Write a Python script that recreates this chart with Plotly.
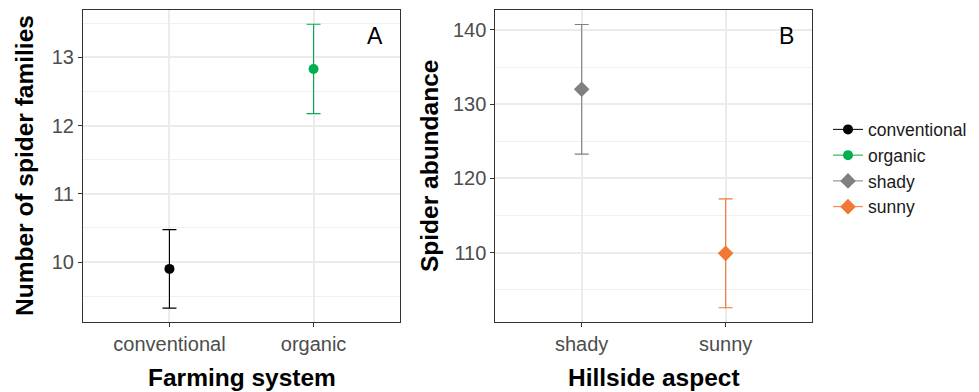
import plotly.graph_objects as go

# ---- data ----
farming = ["conventional", "organic"]
families_mean = [9.90, 12.83]
families_err = [0.575, 0.655]
farming_colors = ["#000000", "#00B050"]

aspect = ["shady", "sunny"]
abundance_mean = [132.0, 109.9]
abundance_err = [8.73, 7.34]
aspect_colors = ["#808080", "#F37735"]

yticks_a = [10, 11, 12, 13]
yminor_a = [9.5, 10.5, 11.5, 12.5, 13.5]
yticks_b = [110, 120, 130, 140]
yminor_b = [105, 115, 125, 135]

FONT = "Liberation Sans, Arial, sans-serif"
W, H = 979, 392

fig = go.Figure()

for name, m, e, c in zip(farming, families_mean, families_err, farming_colors):
    fig.add_trace(go.Scatter(
        x=[name], y=[m], name=name, mode="lines+markers",
        marker=dict(color=c, size=10, symbol="circle"),
        line=dict(color=c, width=1),
        error_y=dict(type="data", array=[e], color=c, thickness=1.1, width=7),
        xaxis="x", yaxis="y"))

for name, m, e, c in zip(aspect, abundance_mean, abundance_err, aspect_colors):
    fig.add_trace(go.Scatter(
        x=[name], y=[m], name=name, mode="lines+markers",
        marker=dict(color=c, size=12, symbol="diamond"),
        line=dict(color=c, width=1),
        error_y=dict(type="data", array=[e], color=c, thickness=1.1, width=7),
        xaxis="x2", yaxis="y2"))

def px_x(a, b):
    return [a / W, b / W]

def px_y(top, bottom):
    return [(H - bottom) / H, (H - top) / H]

common_axis = dict(
    showline=True, mirror=True, linecolor="#333333", linewidth=1,
    ticks="outside", ticklen=4, tickcolor="#333333", tickwidth=1,
    tickfont=dict(family=FONT, size=20, color="#4D4D4D"),
    showgrid=True, gridcolor="#EBEBEB", gridwidth=1.6, zeroline=False,
)

minor_grid = dict(showgrid=True, gridcolor="#F0F0F0", gridwidth=1, ticks="")

fig.update_layout(
    width=W, height=H,
    margin=dict(l=0, r=0, t=0, b=0),
    paper_bgcolor="white", plot_bgcolor="white",
    font=dict(family=FONT),
    xaxis=dict(common_axis, domain=px_x(83, 400), type="category",
               categoryorder="array", categoryarray=farming,
               range=[-0.6, 1.6], anchor="y"),
    yaxis=dict(common_axis, domain=px_y(10, 322), range=[9.122, 13.694],
               tickvals=yticks_a, anchor="x",
               minor=dict(minor_grid, tickvals=yminor_a)),
    xaxis2=dict(common_axis, domain=px_x(495.3, 812), type="category",
                categoryorder="array", categoryarray=aspect,
                range=[-0.6, 1.6], anchor="y2"),
    yaxis2=dict(common_axis, domain=px_y(10, 322), range=[100.65, 142.68],
                tickvals=yticks_b, anchor="x2",
                minor=dict(minor_grid, tickvals=yminor_b)),
    legend=dict(x=828 / W, y=(H - 168) / H, xanchor="left", yanchor="middle",
                font=dict(family=FONT, size=17.5, color="#1A1A1A"),
                bgcolor="rgba(0,0,0,0)", itemwidth=30, tracegroupgap=0),
    showlegend=True,
)

annotations = [
    dict(text="<b>Farming system</b>", x=241.5 / W, y=(H - 377) / H),
    dict(text="<b>Hillside aspect</b>", x=653.7 / W, y=(H - 377) / H),
    dict(text="<b>Number of spider families</b>", x=24 / W, y=(H - 166) / H, textangle=-90),
    dict(text="<b>Spider abundance</b>", x=429 / W, y=(H - 166) / H, textangle=-90),
]
for a in annotations:
    fig.add_annotation(xref="paper", yref="paper", showarrow=False,
                       xanchor="center", yanchor="middle",
                       font=dict(family=FONT, size=24.5, color="#000000"), **a)

fig.add_annotation(xref="paper", yref="paper", showarrow=False,
                   text="A", x=375 / W, y=(H - 36) / H, xanchor="center", yanchor="middle",
                   font=dict(family=FONT, size=23, color="#000000"))
fig.add_annotation(xref="paper", yref="paper", showarrow=False,
                   text="B", x=786 / W, y=(H - 36) / H, xanchor="center", yanchor="middle",
                   font=dict(family=FONT, size=23, color="#000000"))

fig.write_html("out.html")
